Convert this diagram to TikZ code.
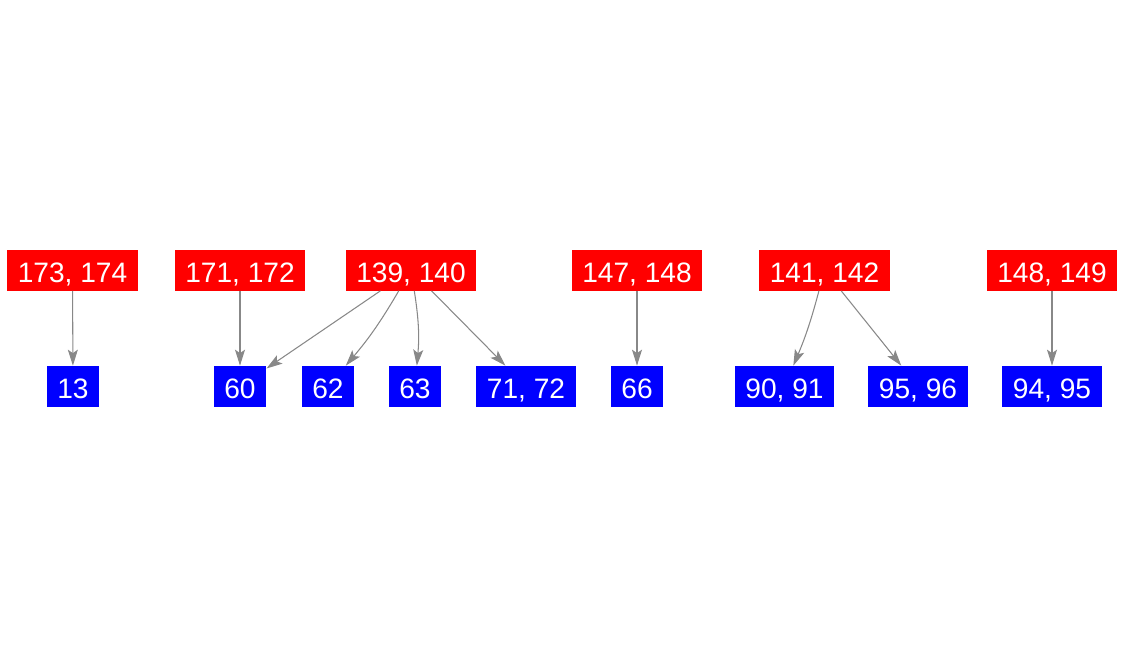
\documentclass[tikz,border=0pt]{standalone}
\usepackage{fontspec}
\setmainfont{Liberation Sans}
\usepackage{tikz}
\usetikzlibrary{arrows.meta}
\definecolor{srcred}{RGB}{255,0,0}
\definecolor{dstblue}{RGB}{0,0,255}
\definecolor{edgegray}{RGB}{136,136,136}

\begin{document}
\begin{tikzpicture}[x=0.02cm,y=-0.02cm,
  every node/.style={font=\fontsize{16}{19}\selectfont,text=white,inner xsep=0.21cm,inner ysep=0pt,text height=0.48cm,text depth=0pt,minimum height=0.82cm,minimum width=1.04cm},
  srcbox/.style={fill=srcred},
  dstbox/.style={fill=dstblue},
  link/.style={draw=edgegray,line width=0.6pt,-{Stealth[length=3.2mm,width=2mm,inset=0.7mm]}}]
  \useasboundingbox (0,0) rectangle (1123,656);
  % upper row
  \node[srcbox] (s173) at (72.5,270) {173, 174};
  \node[srcbox] (s171) at (240,270) {171, 172};
  \node[srcbox] (s139) at (411,270) {139, 140};
  \node[srcbox] (s147) at (637,270) {147, 148};
  \node[srcbox] (s141) at (824.5,270) {141, 142};
  \node[srcbox] (s148) at (1052,270) {148, 149};
  % lower row
  \node[dstbox] (d13) at (73,386.5) {13};
  \node[dstbox] (d60) at (240,386.5) {60};
  \node[dstbox] (d62) at (328,386.5) {62};
  \node[dstbox] (d63) at (415,386.5) {63};
  \node[dstbox] (d71) at (526,386.5) {71, 72};
  \node[dstbox] (d66) at (637,386.5) {66};
  \node[dstbox] (d90) at (784.5,386.5) {90, 91};
  \node[dstbox] (d95) at (918,386.5) {95, 96};
  \node[dstbox] (d94) at (1052,386.5) {94, 95};
  % edges
  \draw[link] (s173) -- (d13);
  \draw[link] (s171) -- (d60);
  \draw[link] (s139) -- (d60);
  \draw[link] (s139) to[bend left=5] (d62);
  \draw[link] (s139) to[bend left=7] (d63);
  \draw[link] (s139) -- (d71);
  \draw[link] (s147) -- (d66);
  \draw[link] (s141) to[bend left=4] (d90);
  \draw[link] (s141) -- (d95);
  \draw[link] (s148) -- (d94);
\end{tikzpicture}
\end{document}
